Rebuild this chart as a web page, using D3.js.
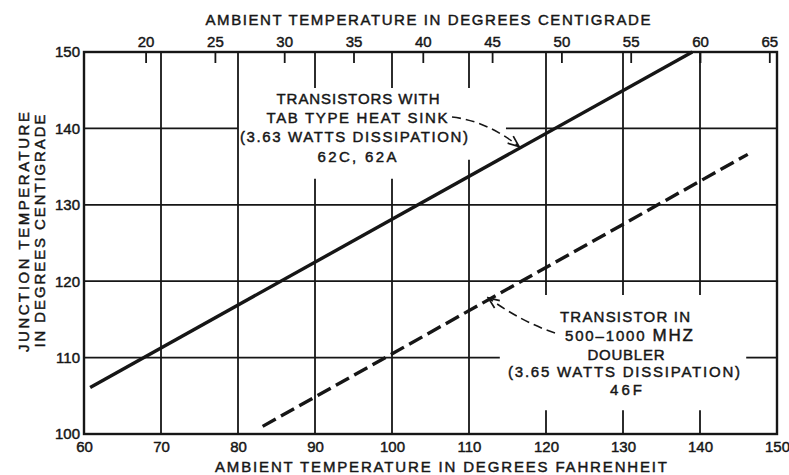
<!DOCTYPE html>
<html>
<head>
<meta charset="utf-8">
<script src="https://cdn.jsdelivr.net/npm/d3@7"></script>
<style>
  body { margin: 0; background: #fff; }
  text { font-family: "Liberation Sans", Arial, sans-serif; fill: #161616; stroke: #161616; stroke-width: 0.45px; }
</style>
</head>
<body>
<svg id="chart" width="789" height="475"></svg>
<script>
// Tick values: ambient °F (bottom), ambient °C (top), junction °C (left)
const fahrenheitTicks = [60, 70, 80, 90, 100, 110, 120, 130, 140, 150];
const centigradeTicks = [20, 25, 30, 35, 40, 45, 50, 55, 60, 65];
const junctionTicks = [100, 110, 120, 130, 140, 150];

// Curves: ambient temperature (°F) against junction temperature (°C)
const tabSinkAmbientF = [60.8, 139.0];
const tabSinkJunction = [106.1, 150.0];
const doublerAmbientF = [83.2, 146.2];
const doublerJunction = [101.0, 136.6];

// Callout texts
const tabSinkLabel = ["TRANSISTORS WITH", "TAB TYPE HEAT SINK", "(3.63 WATTS DISSIPATION)", "62C, 62A"];
const doublerLabel = ["TRANSISTOR IN", "500–1000 MHZ", "DOUBLER", "(3.65 WATTS DISSIPATION)", "46F"];

const svg = d3.select("#chart");
const ink = "#161616";

const x = d3.scaleLinear().domain([60, 150]).range([84, 777]);
const toC = f => (f - 32) / 1.8;
const xc = d3.scaleLinear().domain([toC(60), toC(150)]).range([84, 777]);
const y = d3.scaleLinear().domain([100, 150]).range([434, 52]);

// Grid lines, broken where the callouts sit (spans in data units)
const verticalSpans = {
  70: [[100, 150]], 80: [[100, 150]],
  90: [[100, 133.4], [145.3, 150]], 100: [[100, 133.4], [145.3, 150]],
  110: [[100, 135.9], [145.3, 150]],
  120: [[100, 103.1], [118.2, 150]], 130: [[100, 103.1], [118.2, 150]], 140: [[100, 103.1], [118.2, 150]]
};
const horizontalSpans = {
  110: [[60, 114.0], [146.0, 150]],
  120: [[60, 150]], 130: [[60, 150]],
  140: [[60, 80], [114.8, 150]]
};

const grid = svg.append("g").attr("stroke", ink).attr("stroke-width", 1.8);
Object.entries(verticalSpans).forEach(([f, spans]) => {
  spans.forEach(([a, b]) => grid.append("line")
    .attr("x1", x(+f)).attr("x2", x(+f)).attr("y1", y(a)).attr("y2", y(b)));
});
Object.entries(horizontalSpans).forEach(([t, spans]) => {
  spans.forEach(([a, b]) => grid.append("line")
    .attr("x1", x(a)).attr("x2", x(b)).attr("y1", y(+t)).attr("y2", y(+t)));
});

// Frame
svg.append("rect")
  .attr("x", x(60)).attr("y", y(150))
  .attr("width", x(150) - x(60)).attr("height", y(100) - y(150))
  .attr("fill", "none").attr("stroke", ink).attr("stroke-width", 2.4);

// Axes
const styleAxis = g => {
  g.select(".domain").remove();
  g.selectAll("line").attr("stroke", ink).attr("stroke-width", 1.8);
  g.selectAll("text").attr("font-family", "Liberation Sans, Arial, sans-serif")
    .attr("font-size", 15).attr("fill", ink);
};

svg.append("g").attr("transform", `translate(0,${y(150)})`)
  .call(d3.axisTop(xc).tickValues(centigradeTicks).tickSizeInner(-11).tickSizeOuter(0).tickPadding(5).tickFormat(d3.format("d")))
  .call(styleAxis);

svg.append("g").attr("transform", `translate(0,${y(100)})`)
  .call(d3.axisBottom(x).tickValues(fahrenheitTicks).tickSize(0).tickPadding(7).tickFormat(d3.format("d")))
  .call(styleAxis);

svg.append("g").attr("transform", `translate(${x(60)},0)`)
  .call(d3.axisLeft(y).tickValues(junctionTicks).tickSize(0).tickPadding(4).tickFormat(d3.format("d")))
  .call(styleAxis);

// Axis titles
const title = (txt, tx, ty, len, rot) => svg.append("text")
  .attr("transform", `translate(${tx},${ty})${rot ? " rotate(-90)" : ""}`)
  .attr("text-anchor", "middle").attr("font-size", 15)
  .attr("textLength", len).attr("lengthAdjust", "spacing").text(txt);

title("AMBIENT TEMPERATURE IN DEGREES CENTIGRADE", 428, 25, 445);
title("AMBIENT TEMPERATURE IN DEGREES FAHRENHEIT", 441, 472, 452);
title("JUNCTION TEMPERATURE", 29, 232, 240, true);
title("IN DEGREES CENTIGRADE", 45, 231, 233, true);

// Curves
const line = d3.line().x(d => x(d[0])).y(d => y(d[1]));
svg.append("path")
  .datum(d3.zip(tabSinkAmbientF, tabSinkJunction))
  .attr("d", line).attr("fill", "none").attr("stroke", ink).attr("stroke-width", 3.4);
svg.append("path")
  .datum(d3.zip(doublerAmbientF, doublerJunction))
  .attr("d", line).attr("fill", "none").attr("stroke", ink).attr("stroke-width", 3.4)
  .attr("stroke-dasharray", "15,6");

// Callouts
const block = (lines, cx, baselines, lengths) => {
  lines.forEach((t, i) => {
    const el = svg.append("text").attr("x", cx[i]).attr("y", baselines[i])
      .attr("text-anchor", "middle").attr("font-size", 15)
      .attr("textLength", lengths[i]).attr("lengthAdjust", "spacing");
    if (t.endsWith("MHZ")) {
      el.append("tspan").text(t.slice(0, -3));
      el.append("tspan").attr("font-size", 17).text("MHZ");
    } else {
      el.text(t);
    }
  });
};
block(tabSinkLabel, [358, 357, 354, 357], [104, 123, 142, 162], [163, 181, 228, 79]);
block(doublerLabel, [625, 629, 626, 624, 626], [322, 341, 360, 377, 395], [130, 128, 77, 232, 32]);

// Leader arrows
const defs = svg.append("defs");
defs.append("marker").attr("id", "head")
  .attr("markerUnits", "userSpaceOnUse").attr("markerWidth", 16).attr("markerHeight", 16)
  .attr("viewBox", "-14 -8 16 16").attr("refX", 0).attr("refY", 0).attr("orient", "auto")
  .append("path").attr("d", "M-11,-4.5 L0,0 L-11,4.5")
  .attr("fill", "none").attr("stroke", ink).attr("stroke-width", 1.7);

const alongLine = (fs, ts, f) => d3.scaleLinear().domain(fs).range(ts)(f);
const leader = (sx, sy, cx, cy, tipF, fs, ts) => {
  const tx = x(tipF), ty = y(alongLine(fs, ts, tipF)) - 2;
  const p = d3.path();
  p.moveTo(sx, sy);
  p.quadraticCurveTo(cx, cy, tx, ty);
  svg.append("path").attr("d", p.toString())
    .attr("fill", "none").attr("stroke", ink).attr("stroke-width", 1.6)
    .attr("stroke-dasharray", "9,5").attr("marker-end", "url(#head)");
};
leader(452, 117, 487, 121, 116.5, tabSinkAmbientF, tabSinkJunction);
leader(555, 333, 522, 322, 112.5, doublerAmbientF, doublerJunction);
</script>
</body>
</html>
